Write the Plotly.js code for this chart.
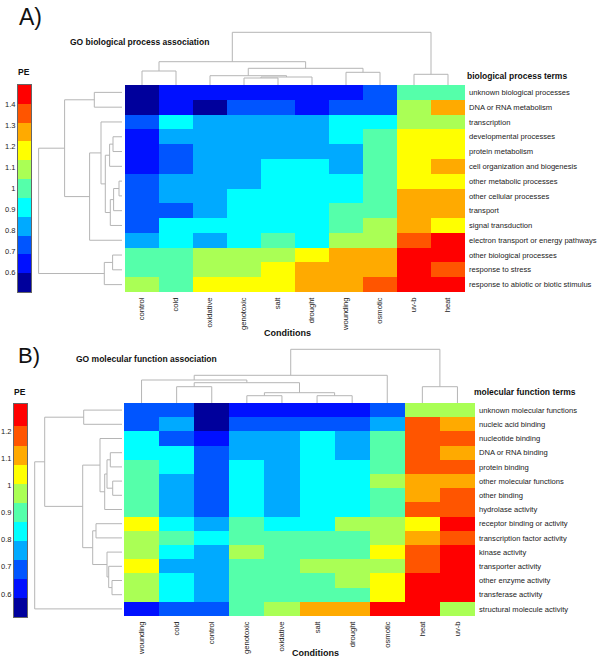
<!DOCTYPE html>
<html><head><meta charset="utf-8">
<script src="https://cdn.plot.ly/plotly-3.0.1.min.js"></script>
<style>html,body{margin:0;padding:0;background:#fff}#chart{width:600px;height:670px}</style>
</head><body><div id="chart"></div>
<script>
// ---------- DATA ----------
const condsA = ['control','cold','oxidative','genotoxic','salt','drought','wounding','osmotic','uv-b','heat'];
const termsA = ['unknown biological processes','DNA or RNA metabolism','transcription','developmental processes','protein metabolism','cell organization and biogenesis','other metabolic processes','other cellular processes','transport','signal transduction','electron transport or energy pathways','other biological processes','response to stress','response to abiotic or biotic stimulus'];
const peA = [
 [0.55,0.64,0.64,0.64,0.64,0.64,0.64,0.73,1.00,1.00],
 [0.55,0.64,0.55,0.73,0.73,0.64,0.73,0.73,1.09,1.27],
 [0.73,0.91,0.82,0.82,0.82,0.82,0.91,0.91,1.09,1.09],
 [0.64,0.82,0.82,0.82,0.82,0.82,0.91,1.00,1.18,1.18],
 [0.64,0.73,0.82,0.82,0.82,0.82,0.82,1.00,1.18,1.18],
 [0.64,0.73,0.82,0.82,0.91,0.91,0.82,1.00,1.18,1.27],
 [0.73,0.82,0.82,0.82,0.91,0.91,0.91,1.00,1.18,1.18],
 [0.73,0.82,0.82,0.91,0.91,0.91,0.91,1.00,1.27,1.27],
 [0.73,0.73,0.82,0.91,0.91,0.91,1.00,1.00,1.27,1.27],
 [0.73,0.91,0.91,0.91,0.91,0.91,1.00,1.09,1.27,1.18],
 [0.82,0.91,0.82,0.91,1.00,0.91,1.09,1.09,1.36,1.45],
 [1.00,1.00,1.09,1.09,1.09,1.18,1.27,1.27,1.45,1.45],
 [1.00,1.00,1.09,1.09,1.18,1.27,1.27,1.27,1.45,1.36],
 [1.09,1.00,1.18,1.18,1.18,1.27,1.27,1.36,1.45,1.45]
];
const levelsA = [0.55,0.64,0.73,0.82,0.91,1.00,1.09,1.18,1.27,1.36,1.45];
const ticksA = [0.6,0.7,0.8,0.9,1,1.1,1.2,1.3,1.4];
// linkage: [childA, childB, height]; children < n are leaves, >= n are earlier merges
const colLinkA = [[0,1,14],[3,4,7],[11,5,8],[2,12,9.3],[6,7,12.7],[13,14,16.7],[10,15,23.3],[8,9,10.7],[16,17,52.7]];
const rowLinkA = [[0,1,27.7],[11,12,9.4],[15,13,17.7],[3,4,9],[17,5,12.4],[6,7,3],[19,8,8.4],[20,9,11.7],[18,21,16.7],[2,22,21],[23,10,32.4],[14,24,57.4],[25,16,83.4]];

const condsB = ['wounding','cold','control','genotoxic','oxidative','salt','drought','osmotic','heat','uv-b'];
const termsB = ['unknown molecular functions','nucleic acid binding','nucleotide binding','DNA or RNA binding','protein binding','other molecular functions','other binding','hydrolase activity','receptor binding or activity','transcription factor activity','kinase activity','transporter activity','other enzyme activity','transferase activity','structural molecule activity'];
const peB = [
 [0.69,0.69,0.55,0.62,0.62,0.62,0.62,0.69,0.97,0.97],
 [0.69,0.76,0.55,0.69,0.69,0.69,0.69,0.76,1.18,1.11],
 [0.83,0.69,0.62,0.76,0.76,0.83,0.76,0.90,1.18,1.18],
 [0.83,0.83,0.69,0.76,0.76,0.83,0.76,0.90,1.18,1.11],
 [0.90,0.83,0.69,0.83,0.76,0.83,0.83,0.90,1.18,1.18],
 [0.90,0.76,0.69,0.83,0.76,0.83,0.83,0.97,1.11,1.11],
 [0.90,0.76,0.69,0.83,0.76,0.83,0.83,0.90,1.11,1.18],
 [0.90,0.76,0.69,0.83,0.76,0.83,0.83,0.90,1.18,1.18],
 [1.04,0.83,0.76,0.90,0.83,0.83,0.97,0.97,1.04,1.26],
 [0.97,0.90,0.83,0.90,0.90,0.90,0.90,0.97,1.11,1.18],
 [0.97,0.83,0.76,0.97,0.90,0.90,0.90,1.04,1.18,1.26],
 [1.04,0.76,0.76,0.90,0.90,0.97,0.97,0.97,1.18,1.26],
 [0.97,0.83,0.76,0.90,0.90,0.90,0.97,1.04,1.26,1.26],
 [0.97,0.83,0.76,0.90,0.90,0.90,0.90,1.04,1.26,1.26],
 [0.62,0.69,0.69,0.90,0.97,1.11,1.11,1.26,1.26,0.97]
];
const levelsB = [0.55,0.62,0.69,0.76,0.83,0.90,0.97,1.04,1.11,1.18,1.26];
const ticksB = [0.6,0.7,0.8,0.9,1,1.1,1.2];
const colLinkB = [[1,2,16.3],[3,4,7.3],[5,6,7.3],[11,12,10.3],[10,13,20.3],[0,14,23],[15,7,27.7],[8,9,16.3],[16,17,53.7]];
const rowLinkB = [[0,1,38.3],[3,4,11.7],[5,6,9.3],[16,17,15],[18,7,17.3],[2,19,22],[12,13,10],[11,21,13.3],[10,22,15],[8,9,26],[24,23,29.3],[20,25,39.3],[15,26,77.3],[27,14,87.3]];

const jet = ['#00009C','#0010FF','#0055FF','#00AAFF','#00FFFF','#55FFAA','#AAFF55','#FFFF00','#FFAA00','#FF5500','#FF0000'];

// ---------- HELPERS ----------
const W=600,H=670;
const dx=(a,b)=>[a/W,b/W];
const dy=(a,b)=>[1-b/H,1-a/H];
const FONT='Liberation Sans, Arial, sans-serif';
function scale(){const s=[];const n=jet.length;jet.forEach((c,i)=>{s.push([i/n,c]);s.push([(i+1)/n,c]);});return s;}
function dendro(n,links,orient,xa,ya){
  const pos=[],ht=[];for(let i=0;i<n;i++){pos.push(i);ht.push(0);}
  const p=[],q=[];
  links.forEach(([a,b,h])=>{
    p.push(pos[a],pos[a],pos[b],pos[b],null);
    q.push(ht[a],h,h,ht[b],null);
    pos.push((pos[a]+pos[b])/2);ht.push(h);
  });
  return {type:'scatter',mode:'lines',x:orient==='col'?p:q,y:orient==='col'?q:p,xaxis:xa,yaxis:ya,
    line:{color:'#b5b5b5',width:1},hoverinfo:'skip',showlegend:false};
}
const cs=scale();
const hidden={showgrid:false,zeroline:false,showticklabels:false,ticks:'',showline:false};

const traces=[
 {type:'heatmap',z:peA,x:condsA,y:termsA,colorscale:cs,zmin:0.5,zmax:1.5,showscale:false,xaxis:'x',yaxis:'y'},
 dendro(condsA.length,colLinkA,'col','x2','y2'),
 dendro(termsA.length,rowLinkA,'row','x3','y3'),
 {type:'heatmap',z:levelsA.map(v=>[v]),x:[0],y:levelsA,colorscale:cs,zmin:0.5,zmax:1.5,showscale:false,xaxis:'x4',yaxis:'y4',hoverinfo:'y'},
 {type:'heatmap',z:peB,x:condsB,y:termsB,colorscale:cs,zmin:0.51,zmax:1.29,showscale:false,xaxis:'x5',yaxis:'y5'},
 dendro(condsB.length,colLinkB,'col','x6','y6'),
 dendro(termsB.length,rowLinkB,'row','x7','y7'),
 {type:'heatmap',z:levelsB.map(v=>[v]),x:[0],y:levelsB,colorscale:cs,zmin:0.51,zmax:1.29,showscale:false,xaxis:'x8',yaxis:'y8',hoverinfo:'y'}
];

const tickFont={family:FONT,size:7.6,color:'#222'};
const cbFont={family:FONT,size:7.5,color:'#222'};
function hx(dom,anchor){return {domain:dom,anchor:anchor,tickangle:-90,tickfont:tickFont,ticks:'',showgrid:false,zeroline:false,showline:false,ticklabelstandoff:3,range:[-0.5,9.5]};}
function hy(dom,anchor,n){return {domain:dom,anchor:anchor,side:'right',tickfont:tickFont,ticks:'',showgrid:false,zeroline:false,showline:false,range:[n-0.5,-0.5],ticklabelstandoff:3};}
function cbx(dom,anchor){return Object.assign({domain:dom,anchor:anchor,range:[-0.5,0.5],showline:true,mirror:true,linecolor:'#666',linewidth:1},{showgrid:false,zeroline:false,showticklabels:false,ticks:''});}
function cby(dom,anchor,tv){return {domain:dom,anchor:anchor,side:'left',tickvals:tv,ticktext:tv.map(String),tickfont:cbFont,ticks:'',showgrid:false,zeroline:false,showline:true,mirror:true,linecolor:'#666',linewidth:1,ticklabelstandoff:0};}

function ann(text,x,y,size,bold,xanchor){return {text:bold?'<b>'+text+'</b>':text,x:x/W,y:1-y/H,xref:'paper',yref:'paper',showarrow:false,xanchor:xanchor||'left',yanchor:'middle',font:{family:FONT,size:size,color:'#111'}};}

const layout={
 width:W,height:H,margin:{l:0,r:0,t:0,b:0},paper_bgcolor:'#fff',plot_bgcolor:'rgba(0,0,0,0)',showlegend:false,
 xaxis:hx(dx(125,465),'y'), yaxis:hy(dy(85,292),'x',termsA.length),
 xaxis2:Object.assign({domain:dx(125,465),anchor:'y2',range:[-0.5,9.5]},hidden),
 yaxis2:Object.assign({domain:dy(25,85),anchor:'x2',range:[0,60]},hidden),
 xaxis3:Object.assign({domain:dx(30,122),anchor:'y3',range:[92,0]},hidden),
 yaxis3:Object.assign({domain:dy(85,292),anchor:'x3',range:[termsA.length-0.5,-0.5]},hidden),
 xaxis4:cbx(dx(18,31),'y4'), yaxis4:cby(dy(85,292),'x4',ticksA),
 xaxis5:hx(dx(124,475),'y5'), yaxis5:hy(dy(403,616),'x5',termsB.length),
 xaxis6:Object.assign({domain:dx(124,475),anchor:'y6',range:[-0.5,9.5]},hidden),
 yaxis6:Object.assign({domain:dy(343,403),anchor:'x6',range:[0,60]},hidden),
 xaxis7:Object.assign({domain:dx(28,122),anchor:'y7',range:[94,0]},hidden),
 yaxis7:Object.assign({domain:dy(403,616),anchor:'x7',range:[termsB.length-0.5,-0.5]},hidden),
 xaxis8:cbx(dx(14,27),'y8'), yaxis8:cby(dy(404,617),'x8',ticksB),
 annotations:[
  ann('A)',17,17,23,false),
  ann('GO biological process association',68,42,8.5,true),
  ann('PE',24,72,8.5,true,'center'),
  ann('biological process terms',465,76,8.5,true),
  ann('Conditions',287,333,9,true,'center'),
  ann('B)',16,355,22,false),
  ann('GO molecular function association',74,359,8.5,true),
  ann('PE',20,392,8.5,true,'center'),
  ann('molecular function terms',472,392,8.5,true),
  ann('Conditions',315,653,9,true,'center')
 ]
};
Plotly.newPlot('chart',traces,layout,{displayModeBar:false,staticPlot:true});
</script></body></html>
